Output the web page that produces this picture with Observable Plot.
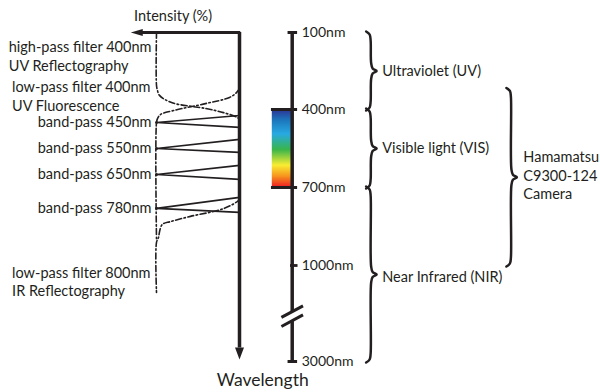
<!DOCTYPE html>
<html><head><meta charset="utf-8">
<script src="https://cdn.jsdelivr.net/npm/d3@7"></script>
<script src="https://cdn.jsdelivr.net/npm/@observablehq/plot@0.6"></script>
<style>body{margin:0;background:#fff}</style>
</head><body><div id="chart"></div>
<script>
// ---- data ----
const waveTicks = [100, 400, 700, 1000, 3000];
const waveTickLabels = ["100nm", "400nm", "700nm", "1000nm", "3000nm"];
const axisBreak = [1960, 2150];

const bandCenters = [450, 550, 650, 780];
const bandStarts = [423, 515, 615, 738];
const bandEnds = [469, 565, 669, 796];
const bandLabels = ["band-pass 450nm", "band-pass 550nm", "band-pass 650nm", "band-pass 780nm"];

const hp400Wave = [100, 306, 326, 345, 373, 396, 412, 431, 439];
const hp400Int = [100, 100, 98.8, 96.4, 81.9, 41, 19.3, 2.4, 0];
const lp400Wave = [318, 334, 353, 377, 404, 419, 435, 450, 900];
const lp400Int = [0, 3.6, 12, 41, 79.5, 95, 98.8, 100, 100];
const lp800Wave = [742, 750, 781, 811, 831, 842, 865, 892, 911, 1562];
const lp800Int = [0, 1.2, 19, 59, 83, 93, 96, 97.6, 100, 100];

const filterLabels = ["high-pass filter 400nm\nUV Reflectography", "low-pass filter 400nm\nUV Fluorescence", "low-pass filter 800nm\nIR Reflectography"];
const filterLabelWaves = [190, 345, 1323];

const regionNames = ["Ultraviolet (UV)", "Visible light (VIS)", "Near Infrared (NIR)"];
const regionFrom = [100, 400, 700];
const regionTo = [400, 700, 3000];
const regionLabelWaves = [250, 550, 1250];
const cameraName = "Hamamatsu\nC9300-124\nCamera";
const cameraFrom = 320, cameraTo = 1000, cameraLabelWave = 650;

const spectrumStops = [0, 0.14, 0.32, 0.52, 0.72, 0.86, 1];
const spectrumColors = ["#2e3192", "#1c75bc", "#27aae1", "#39b54a", "#f9ed32", "#f7941d", "#ed1c24"];

// ---- layout (x in intensity %, y in nm) ----
const INK = "#231f20";
const FONT = "Lato, 'Open Sans', sans-serif";
const FS = 14.5;
const xOpt = {type: "linear", domain: [0, 100], range: [239, 156]};
const yOpt = {type: "linear", domain: waveTicks, range: [32, 109, 187, 265, 361]};
// mirrors of the plot scales, used only to shape the braces in pixel space
const xs = d3.scaleLinear(xOpt.domain, xOpt.range);
const ys = d3.scaleLinear(yOpt.domain, yOpt.range);
const X = {spec: -63.5, rainbow: -39.5, tickText: -75, brace: -158, braceText: -172, cam: -327, camText: -342, leftText: 278, leftText2: 274, intTip: 131, intText: 80, wlText: -28};

// curves
const curves = [];
hp400Wave.forEach((w, i) => curves.push({id: "hp400", w, v: hp400Int[i]}));
lp400Wave.forEach((w, i) => curves.push({id: "lp400", w, v: lp400Int[i]}));
lp800Wave.forEach((w, i) => curves.push({id: "lp800", w, v: lp800Int[i]}));
const bands = [];
bandCenters.forEach((c, i) => {
  bands.push({id: i, w: bandStarts[i], v: 0});
  bands.push({id: i, w: c, v: 100});
  bands.push({id: i, w: bandEnds[i], v: 0});
});

function brace(id, xv, w1, w2) {
  const x0 = xs(xv), y1 = ys(w1), y2 = ys(w2), ym = (y1 + y2) / 2;
  const pts = [[x0 - 4.5, y1 - 1], [x0 - 1, y1 + 2], [x0, y1 + 8], [x0 + 0.5, ym - 8], [x0 + 2, ym - 2.5], [x0 + 6, ym],
               [x0 + 2, ym + 2.5], [x0 + 0.5, ym + 8], [x0, y2 - 8], [x0 - 1, y2 - 2], [x0 - 4.5, y2 + 1]];
  return pts.map(([px, py]) => ({id, v: xs.invert(px), w: ys.invert(py)}));
}
const braces = [];
regionNames.forEach((n, i) => braces.push(...brace(n, X.brace, regionFrom[i], regionTo[i])));
braces.push(...brace("cam", X.cam, cameraFrom, cameraTo));

const headDown = {draw(c) { c.moveTo(0, 0); c.lineTo(4.5, -12); c.lineTo(-4.5, -12); c.closePath(); }};
const headLeft = {draw(c) { c.moveTo(0, 0); c.lineTo(12, -3.5); c.lineTo(12, 3.5); c.closePath(); }};

const svg = Plot.plot({
  width: 600, height: 392, margin: 0,
  x: {...xOpt, axis: null},
  y: {...yOpt, axis: null},
  style: {fontFamily: FONT, color: INK, background: "#fff"},
  marks: [
    Plot.rect([0], {x1: X.rainbow, x2: X.spec, y1: 400, y2: 700, fill: "url(#rainbow)"}),
    Plot.ruleX([0], {x: X.spec, y1: 100, y2: axisBreak[0], stroke: INK, strokeWidth: 3.5}),
    Plot.ruleX([0], {x: X.spec, y1: axisBreak[1], y2: 3000, stroke: INK, strokeWidth: 3.5}),
    Plot.link(axisBreak, {x1: X.spec + 13, x2: X.spec - 13, y1: w => w + 120, y2: w => w - 120, stroke: INK, strokeWidth: 3}),
    Plot.ruleY([100, 3000], {y: d => d, x1: X.spec + 5, x2: X.spec - 6.5, stroke: INK, strokeWidth: 3}),
    Plot.ruleY([400, 700], {y: d => d, x1: X.rainbow + 1, x2: X.spec - 6.5, stroke: INK, strokeWidth: 3}),
    Plot.ruleY([1000], {y: d => d, x1: X.spec + 2, x2: X.spec - 7, stroke: INK, strokeWidth: 2.8}),
    Plot.text(waveTicks, {x: X.tickText, y: d => d, text: (d, i) => waveTickLabels[i], textAnchor: "start", fontSize: 14, fill: INK}),
    Plot.line(braces, {x: "v", y: "w", z: "id", curve: "catmull-rom", stroke: INK, strokeWidth: 2.5}),
    Plot.text(regionNames, {x: X.braceText, y: (d, i) => regionLabelWaves[i], text: d => d, textAnchor: "start", fontSize: FS, fill: INK}),
    Plot.text([cameraName], {x: X.camText, y: cameraLabelWave, text: d => d, textAnchor: "start", fontSize: FS, lineHeight: 1.3, fill: INK}),
    Plot.ruleX([0], {x: 0, y1: 100, y2: 2720, stroke: INK, strokeWidth: 3.5}),
    Plot.ruleY([100], {y: d => d, x1: -1.5, x2: X.intTip - 12, stroke: INK, strokeWidth: 3}),
    Plot.dot([3000], {x: 0, y: d => d, dy: -2, symbol: headDown, fill: INK, stroke: null}),
    Plot.dot([100], {x: X.intTip, y: d => d, symbol: headLeft, fill: INK, stroke: null}),
    Plot.text(["Intensity (%)"], {x: X.intText, y: 100, dy: -16, text: d => d, fontSize: FS, fill: INK}),
    Plot.text(["Wavelength"], {x: X.wlText, y: 3000, dy: 19, text: d => d, fontSize: 17.5, fill: INK}),
    Plot.line(curves, {x: "v", y: "w", z: "id", curve: "catmull-rom", stroke: INK, strokeWidth: 1.6, strokeDasharray: "6,2.5,1.5,2.5"}),
    Plot.line(bands, {x: "v", y: "w", z: "id", curve: "linear", stroke: INK, strokeWidth: 1.7}),
    Plot.dot(bandCenters, {x: 100, y: d => d, r: 1.5, fill: INK, stroke: null}),
    Plot.text(bandLabels, {x: 100, y: (d, i) => bandCenters[i], dx: -5, text: d => d, textAnchor: "end", fontSize: FS, fill: INK}),
    Plot.text(filterLabels, {x: (d, i) => (i === 0 ? X.leftText : X.leftText2), y: (d, i) => filterLabelWaves[i], text: d => d, textAnchor: "start", fontSize: FS, lineHeight: 1.3, fill: INK})
  ]
});

const defs = d3.select(svg).insert("defs", ":first-child");
const grad = defs.append("linearGradient").attr("id", "rainbow").attr("x1", 0).attr("y1", 0).attr("x2", 0).attr("y2", 1);
spectrumStops.forEach((s, i) => grad.append("stop").attr("offset", s).attr("stop-color", spectrumColors[i]));

document.getElementById("chart").appendChild(svg);
</script>
</body></html>
